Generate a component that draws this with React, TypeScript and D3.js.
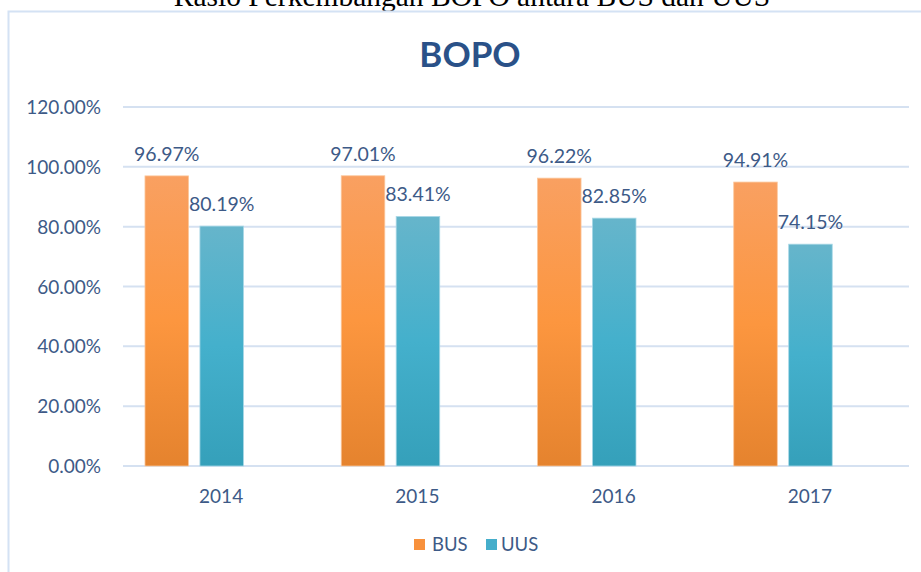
import React from "react";
import * as d3 from "d3";

const categories = ["2014", "2015", "2016", "2017"];
const busValues = [96.97, 97.01, 96.22, 94.91];
const uusValues = [80.19, 83.41, 82.85, 74.15];
const yTicks = [0, 20, 40, 60, 80, 100, 120];
const seriesNames = ["BUS", "UUS"];

const W = 921;
const H = 572;
const FONT = "Lato, 'Open Sans', sans-serif";
const TEXT = "#3d5a87";

export default function App() {
  const x = d3.scaleBand<string>().domain(categories).range([123, 908]);
  const y = d3.scaleLinear().domain([0, 120]).range([466, 107]);
  const bw = x.bandwidth();
  const barW = bw * 0.222;
  const busOff = bw * 0.112;
  const uusOff = bw * 0.392;
  const fmt = (v: number) => v.toFixed(2) + "%";

  return (
    <svg width={W} height={H} style={{ position: "absolute", left: 0, top: 0, background: "#fff" }}>
      <defs>
        <linearGradient id="gBus" x1="0" y1="0" x2="0" y2="1">
          <stop offset="0" stopColor="#f9a061" />
          <stop offset="0.5" stopColor="#fc963f" />
          <stop offset="1" stopColor="#e5832e" />
        </linearGradient>
        <linearGradient id="gUus" x1="0" y1="0" x2="0" y2="1">
          <stop offset="0" stopColor="#66b5cb" />
          <stop offset="0.5" stopColor="#44b0cc" />
          <stop offset="1" stopColor="#35a0ba" />
        </linearGradient>
      </defs>
      <text x={472} y={6} textAnchor="middle" fontFamily="'Liberation Serif', serif" fontSize={29.5} fill="#000">
        Rasio Perkembangan BOPO antara BUS dan UUS
      </text>
      <rect x={8.5} y={11.5} width={930} height={580} fill="none" stroke="#d4e2f4" strokeWidth={2} />
      <text x={470} y={67} textAnchor="middle" fontFamily={FONT} fontWeight="bold" fontSize={35} fill="#2a5188">
        BOPO
      </text>
      {yTicks.map((t) => (
        <g key={t}>
          <line x1={123} x2={909} y1={y(t)} y2={y(t)} stroke="#d5e1f1" strokeWidth={2} />
          <text x={101} y={y(t) + 7} textAnchor="end" fontFamily={FONT} fontSize={19} fill={TEXT}>
            {t.toFixed(2) + "%"}
          </text>
        </g>
      ))}
      {categories.map((c, i) => {
        const x0 = x(c) as number;
        return (
          <g key={c}>
            <rect x={x0 + busOff} y={y(busValues[i])} width={barW} height={y(0) - y(busValues[i])} fill="url(#gBus)" stroke="#fbc79c" strokeWidth={0.8} />
            <rect x={x0 + uusOff} y={y(uusValues[i])} width={barW} height={y(0) - y(uusValues[i])} fill="url(#gUus)" stroke="#a9d8e6" strokeWidth={0.8} />
            <text x={x0 + busOff + barW / 2} y={y(busValues[i]) - 15} textAnchor="middle" fontFamily={FONT} fontSize={19.5} fill={TEXT}>
              {fmt(busValues[i])}
            </text>
            <text x={x0 + uusOff + barW / 2} y={y(uusValues[i]) - 15} textAnchor="middle" fontFamily={FONT} fontSize={19.5} fill={TEXT}>
              {fmt(uusValues[i])}
            </text>
            <text x={x0 + bw / 2} y={503} textAnchor="middle" fontFamily={FONT} fontSize={19} fill={TEXT}>
              {c}
            </text>
          </g>
        );
      })}
      <g>
        <rect x={414} y={539} width={11} height={11} fill="#f8913c" />
        <text x={432} y={551} fontFamily={FONT} fontSize={18.5} fill={TEXT}>{seriesNames[0]}</text>
        <rect x={486} y={539} width={11} height={11} fill="#45aecb" />
        <text x={501} y={551} fontFamily={FONT} fontSize={18.5} fill={TEXT}>{seriesNames[1]}</text>
      </g>
    </svg>
  );
}
